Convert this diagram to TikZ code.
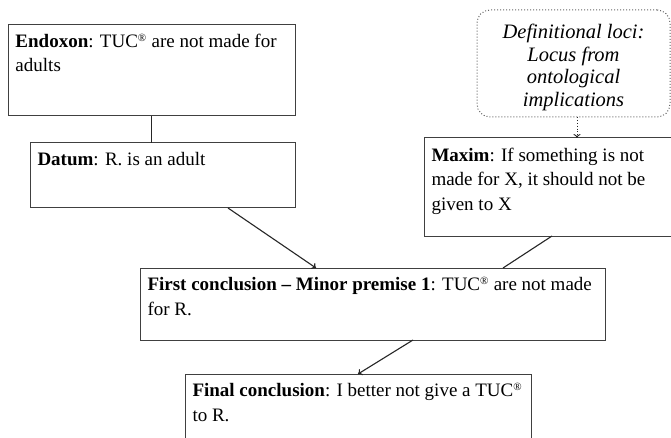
\documentclass[tikz,border=0pt]{standalone}
\usepackage{fontspec}
\setmainfont{Liberation Serif}
\usetikzlibrary{arrows.meta}
\newcommand{\bxt}[4]{\parbox[t][#2][t]{#1}{\begin{tabular}[t]{@{}l@{}}\rule{0pt}{#3}#4\end{tabular}}}
\newcommand{\cxt}[4]{\parbox[t][#2][t]{#1}{\centering\begin{tabular}[t]{@{}c@{}}\rule{0pt}{#3}#4\end{tabular}}}
\newcommand{\regmark}{\textsuperscript{\fontsize{11}{11}\selectfont ®}}
\begin{document}
\begin{tikzpicture}[x=1pt,y=-1pt,
  every node/.style={inner sep=0pt, outer sep=0pt},
  box/.style={draw=black!75, line width=1pt, anchor=north west, inner xsep=7.5pt, inner ysep=0pt, font=\fontsize{19}{24.5}\selectfont},
  locbox/.style={draw=black!60, dotted, line width=1pt, rounded corners=13pt, anchor=north west, inner sep=0pt, font=\fontsize{20.5}{22.5}\selectfont\itshape},
  link/.style={draw=black!85, line width=1.1pt},
  arr/.style={link, -{To[length=4pt,width=7pt]}},
  dotarr/.style={draw=black!85, line width=0.9pt, dotted, -{To[length=4pt,width=7pt]}}
]
\useasboundingbox (0,0) rectangle (671,438);
\clip (0,0) rectangle (671,438);
\fill[white] (0,0) rectangle (671,438);

\node[box] (endoxon) at (8,25) {\bxt{272pt}{91pt}{22.5pt}{\textbf{Endoxon}: TUC\regmark{} are not made for\\adults}};
\node[box] (datum) at (30,143) {\bxt{250pt}{65pt}{22.5pt}{\textbf{Datum}: R. is an adult}};
\node[locbox] (loci) at (477,10) {\cxt{193pt}{107pt}{29pt}{Definitional loci:\\Locus from\\ontological\\implications}};
\node[box] (maxim) at (424,138) {\bxt{241pt}{98pt}{23.5pt}{\textbf{Maxim}: If something is not\\made for X, it should not be\\given to X}};
\node[box] (fc) at (140,268) {\bxt{450pt}{72pt}{22.5pt}{\textbf{First conclusion – Minor premise 1}: TUC\regmark{} are not made\\for R.}};
\node[box] (final) at (185,374) {\bxt{331pt}{80pt}{22.5pt}{\textbf{Final conclusion}: I better not give a TUC\regmark\\to R.}};

\draw[link] (endoxon.south) -- (endoxon.south |- datum.north);
\draw[arr] ([xshift=65.5pt]datum.south) -- ([xshift=-56.5pt]fc.north);
\draw[link] (maxim.south) -- ([xshift=130.5pt]fc.north);
\draw[arr] ([xshift=40.5pt]fc.south) -- (final.north);
\draw[dotarr] ([xshift=3.5pt]loci.south) -- ([xshift=3.5pt]loci.south |- maxim.north);
\end{tikzpicture}
\end{document}
